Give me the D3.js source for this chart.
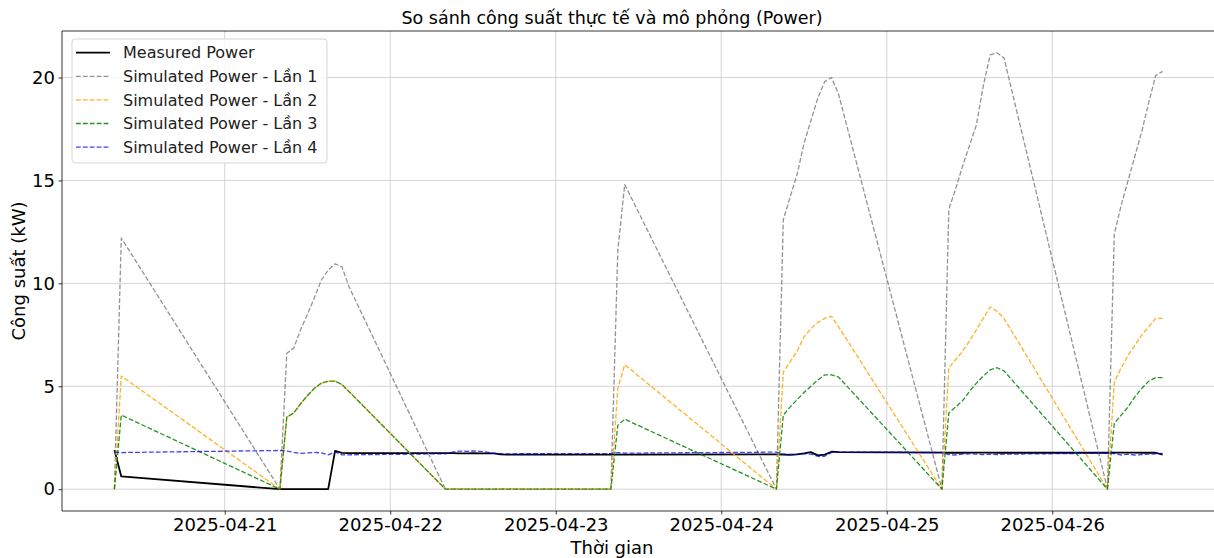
<!DOCTYPE html>
<html>
<head>
<meta charset="utf-8">
<script src="https://cdn.jsdelivr.net/npm/d3@7"></script>
<style>
  html, body { margin: 0; padding: 0; background: #fff; }
  svg { display: block; font-family: "DejaVu Sans", sans-serif; }
</style>
</head>
<body>
<svg id="chart" width="1214" height="558"></svg>
<script>
// ---------- DATA ----------
const times = [
  "2025-04-20T08:00","2025-04-20T09:00",
  "2025-04-21T08:00","2025-04-21T09:00","2025-04-21T10:00","2025-04-21T11:00","2025-04-21T12:00","2025-04-21T13:00","2025-04-21T14:00","2025-04-21T15:00","2025-04-21T16:00","2025-04-21T17:00","2025-04-21T18:00",
  "2025-04-22T08:00","2025-04-22T09:00","2025-04-22T10:00","2025-04-22T11:00","2025-04-22T12:00","2025-04-22T13:00","2025-04-22T14:00","2025-04-22T15:00","2025-04-22T16:00","2025-04-22T17:00","2025-04-22T18:00",
  "2025-04-23T08:00","2025-04-23T09:00","2025-04-23T10:00",
  "2025-04-24T08:00","2025-04-24T09:00","2025-04-24T10:00","2025-04-24T11:00","2025-04-24T12:00","2025-04-24T13:00","2025-04-24T14:00","2025-04-24T15:00","2025-04-24T16:00","2025-04-24T17:00",
  "2025-04-25T08:00","2025-04-25T09:00","2025-04-25T10:00","2025-04-25T11:00","2025-04-25T12:00","2025-04-25T13:00","2025-04-25T14:00","2025-04-25T15:00","2025-04-25T16:00","2025-04-25T17:00",
  "2025-04-26T08:00","2025-04-26T09:00","2025-04-26T10:00","2025-04-26T11:00","2025-04-26T12:00","2025-04-26T13:00","2025-04-26T14:00","2025-04-26T15:00","2025-04-26T16:00"
];

const measuredPower = [
  1.90, 0.62,
  0, 0, 0, 0, 0, 0, 0, 0, 1.86, 1.76, 1.75,
  1.75, 1.75, 1.74, 1.74, 1.75, 1.74, 1.74, 1.74, 1.69, 1.68, 1.68,
  1.68, 1.68, 1.68,
  1.69, 1.68, 1.67, 1.69, 1.74, 1.80, 1.64, 1.68, 1.82, 1.80,
  1.78, 1.77, 1.77, 1.77, 1.78, 1.78, 1.78, 1.78, 1.77, 1.77,
  1.77, 1.78, 1.78, 1.78, 1.78, 1.77, 1.77, 1.77, 1.68
];

const simLan1 = [
  0, 12.2,
  0, 6.6, 6.85, 7.75, 8.5, 9.3, 10.15, 10.65, 10.95, 10.8, 9.85,
  0, 0, 0, 0, 0, 0, 0, 0, 0, 0, 0,
  0, 11.6, 14.8,
  0, 13.1, 14.2, 15.3, 16.8, 17.9, 19.0, 19.8, 20.0, 19.2,
  0, 13.6, 14.6, 15.7, 16.7, 17.7, 19.6, 21.1, 21.2, 20.95,
  0, 12.4, 13.8, 15.0, 16.2, 17.4, 18.8, 20.1, 20.3
];

const simLan2 = [
  0, 5.5,
  0, 3.5, 3.7, 4.15, 4.55, 4.9, 5.15, 5.25, 5.25, 5.08, 4.75,
  0, 0, 0, 0, 0, 0, 0, 0, 0, 0, 0,
  0, 4.9, 6.05,
  0, 5.7, 6.2, 6.7, 7.4, 7.8, 8.1, 8.3, 8.4, 7.9,
  0, 5.9, 6.3, 6.7, 7.2, 7.75, 8.3, 8.85, 8.65, 8.3,
  0, 5.2, 5.9, 6.5, 7.0, 7.5, 7.9, 8.3, 8.3
];

const simLan3 = [
  0, 3.6,
  0, 3.5, 3.7, 4.15, 4.55, 4.9, 5.15, 5.25, 5.25, 5.08, 4.75,
  0, 0, 0, 0, 0, 0, 0, 0, 0, 0, 0,
  0, 3.1, 3.4,
  0, 3.6, 4.0, 4.35, 4.7, 5.0, 5.3, 5.55, 5.55, 5.45,
  0, 3.7, 4.0, 4.3, 4.75, 5.15, 5.5, 5.8, 5.9, 5.75,
  0, 3.2, 3.6, 4.0, 4.5, 4.9, 5.25, 5.42, 5.42
];

const simLan4 = [
  1.80, 1.78,
  1.88, 1.85, 1.79, 1.74, 1.76, 1.79, 1.76, 1.67, 1.81, 1.67, 1.67,
  1.72, 1.80, 1.85, 1.84, 1.86, 1.84, 1.80, 1.74, 1.73, 1.72, 1.72,
  1.73, 1.78, 1.75,
  1.80, 1.70, 1.69, 1.69, 1.72, 1.70, 1.60, 1.60, 1.78, 1.80,
  1.79, 1.68, 1.66, 1.70, 1.72, 1.70, 1.68, 1.70, 1.68, 1.70,
  1.75, 1.73, 1.66, 1.70, 1.66, 1.68, 1.70, 1.72, 1.74
];

const yTicks = [0, 5, 10, 15, 20];
const xTickDates = ["2025-04-21","2025-04-22","2025-04-23","2025-04-24","2025-04-25","2025-04-26"];

const titleText = "So sánh công suất thực tế và mô phỏng (Power)";
const xLabelText = "Thời gian";
const yLabelText = "Công suất (kW)";

const seriesNames = ["Measured Power","Simulated Power - Lần 1","Simulated Power - Lần 2","Simulated Power - Lần 3","Simulated Power - Lần 4"];
const seriesValues = [measuredPower, simLan1, simLan2, simLan3, simLan4];
const seriesColors = ["#000000", "#808080", "#ffa500", "#008000", "#0000ff"];

// ---------- LAYOUT ----------
const svg = d3.select("#chart");
const plot = { left: 62, top: 31, right: 1215, bottom: 511 };
const parse = d3.timeParse("%Y-%m-%dT%H:%M");
const parseDay = d3.timeParse("%Y-%m-%d");
const tDates = times.map(parse);

const tExt = d3.extent(tDates);
const tPad = (tExt[1] - tExt[0]) * 0.05;
const x = d3.scaleTime()
  .domain([new Date(+tExt[0] - tPad), new Date(+tExt[1] + tPad)])
  .range([plot.left, plot.right]);

const allVals = seriesValues.flat();
const yMin = d3.min(allVals), yMax = d3.max(allVals);
const yPad = (yMax - yMin) * 0.05;
const y = d3.scaleLinear()
  .domain([yMin - yPad, yMax + yPad])
  .range([plot.bottom, plot.top]);

const gridColor = "#cfcfcf";

// grid
const grid = svg.append("g");
xTickDates.forEach(d => {
  const xx = x(parseDay(d));
  grid.append("line").attr("x1", xx).attr("x2", xx).attr("y1", plot.top).attr("y2", plot.bottom)
    .attr("stroke", gridColor).attr("stroke-width", 0.9);
});
yTicks.forEach(v => {
  grid.append("line").attr("x1", plot.left).attr("x2", plot.right).attr("y1", y(v)).attr("y2", y(v))
    .attr("stroke", gridColor).attr("stroke-width", 0.9);
});

// clip
svg.append("clipPath").attr("id", "clip").append("rect")
  .attr("x", plot.left).attr("y", plot.top)
  .attr("width", plot.right - plot.left).attr("height", plot.bottom - plot.top);

const lineGen = vals => d3.line()
  .x((d, i) => x(tDates[i]))
  .y(d => y(d))(vals);

const lines = svg.append("g").attr("clip-path", "url(#clip)");
const styles = [
  { w: 1.8, dash: null, op: 1 },
  { w: 1.3, dash: "4.8,2.1", op: 0.85 },
  { w: 1.3, dash: "4.8,2.1", op: 0.85 },
  { w: 1.3, dash: "4.8,2.1", op: 0.85 },
  { w: 1.3, dash: "4.8,2.1", op: 0.75 }
];
seriesValues.forEach((vals, k) => {
  lines.append("path")
    .attr("d", lineGen(vals))
    .attr("fill", "none")
    .attr("stroke", seriesColors[k])
    .attr("stroke-width", styles[k].w)
    .attr("stroke-dasharray", styles[k].dash)
    .attr("stroke-opacity", styles[k].op)
    .attr("stroke-linejoin", "round");
});

// axes
const xAxis = d3.axisBottom(x)
  .tickValues(xTickDates.map(parseDay))
  .tickFormat(d3.timeFormat("%Y-%m-%d"))
  .tickSizeOuter(0).tickSize(3.5).tickPadding(3.5);
const gx = svg.append("g").attr("transform", `translate(0,${plot.bottom})`).call(xAxis);
gx.select(".domain").remove();
gx.selectAll("text").attr("font-size", 18).attr("fill", "#000").attr("font-family", "DejaVu Sans");
gx.selectAll("line").attr("stroke", "#000").attr("stroke-width", 0.8);

const yAxis = d3.axisLeft(y).tickValues(yTicks).tickFormat(d3.format("d"))
  .tickSizeOuter(0).tickSize(3.5).tickPadding(3.5);
const gy = svg.append("g").attr("transform", `translate(${plot.left},0)`).call(yAxis);
gy.select(".domain").remove();
gy.selectAll("text").attr("font-size", 18).attr("fill", "#000").attr("font-family", "DejaVu Sans");
gy.selectAll("line").attr("stroke", "#000").attr("stroke-width", 0.8);

// spines
const sp = svg.append("g").attr("stroke", "#000").attr("stroke-width", 0.8);
sp.append("line").attr("x1", plot.left).attr("x2", plot.left).attr("y1", plot.top).attr("y2", plot.bottom);
sp.append("line").attr("x1", plot.left).attr("x2", 1214).attr("y1", plot.bottom).attr("y2", plot.bottom);
sp.append("line").attr("x1", plot.left).attr("x2", 1214).attr("y1", plot.top).attr("y2", plot.top);

// titles
svg.append("text").attr("x", 612).attr("y", 24).attr("text-anchor", "middle")
  .attr("font-size", 17.5).text(titleText);
svg.append("text").attr("x", 612).attr("y", 554).attr("text-anchor", "middle")
  .attr("font-size", 18).text(xLabelText);
svg.append("text").attr("transform", "translate(25,271) rotate(-90)").attr("text-anchor", "middle")
  .attr("font-size", 18).text(yLabelText);

// legend
const lg = svg.append("g").attr("transform", `translate(${plot.left + 10},${plot.top + 8})`);
lg.append("rect").attr("x", 0).attr("y", 0).attr("width", 255).attr("height", 124)
  .attr("rx", 3).attr("fill", "#fff").attr("fill-opacity", 0.85)
  .attr("stroke", "#d6d6d6").attr("stroke-width", 1);
seriesNames.forEach((name, k) => {
  const yy = 13.7 + k * 23.6;
  lg.append("line").attr("x1", 4).attr("x2", 38).attr("y1", yy).attr("y2", yy)
    .attr("stroke", seriesColors[k]).attr("stroke-width", styles[k].w)
    .attr("stroke-dasharray", styles[k].dash).attr("stroke-opacity", styles[k].op);
  lg.append("text").attr("x", 51).attr("y", yy).attr("dy", "0.36em")
    .attr("font-size", 16).attr("fill", "#222").text(name);
});
</script>
</body>
</html>
